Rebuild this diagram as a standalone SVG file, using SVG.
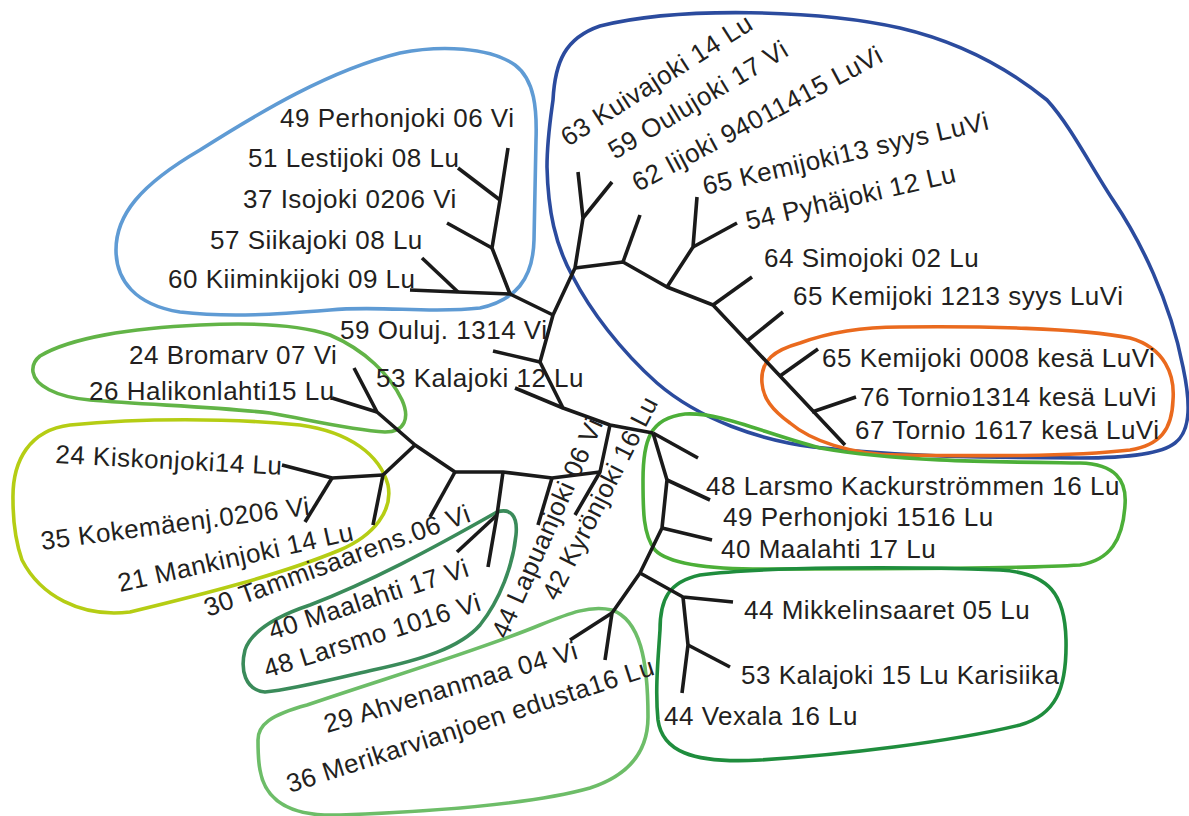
<svg xmlns="http://www.w3.org/2000/svg" width="1189" height="816" viewBox="0 0 1189 816">
  <style>
    .hull { fill: none; stroke-width: 3.6; stroke-linejoin: round; }
    .edge { fill: none; stroke: #1a1a1a; stroke-width: 3.6; stroke-linejoin: round; stroke-linecap: butt; }
    text { font-family: "Liberation Sans", Arial, sans-serif; font-size: 26px; letter-spacing: 0.5px; fill: #231f20; }
  </style>
  <rect width="1189" height="816" fill="#ffffff"/>

  <!-- cluster outlines -->
  <g id="clusters">
    <path class="hull" stroke="#5f9bd4" d="M 116,250 C 116,215 140,185 200,150 C 260,112 330,70 400,53 C 440,45 490,47 515,65 C 535,80 537,110 536,140 L 534,240 C 533,280 515,300 480,308 C 430,314 380,305 330,310 C 280,314 230,318 180,312 C 135,305 116,280 116,250 Z"/>
    <path class="hull" stroke="#2b4b9e" d="M 553,100 C 555,62 565,38 600,26 C 680,6 820,10 900,28 C 960,42 1010,70 1047,100 C 1070,125 1090,165 1113,200 C 1140,240 1170,300 1183,367 C 1190,400 1192,430 1175,443 C 1160,455 1120,458 1080,458 L 980,457 C 920,456 860,452 813,447 C 760,440 700,420 657,383 C 620,350 590,310 573,277 C 555,245 548,210 547,167 C 547,140 551,115 553,100 Z"/>
    <path class="hull" stroke="#ea6a1e" d="M 762,383 C 760,360 775,350 800,343 C 830,332 860,327 900,327 C 980,326 1080,328 1130,338 C 1165,348 1175,375 1173,400 C 1172,430 1160,445 1130,450 C 1070,457 980,456 900,455 C 850,455 810,440 790,423 C 772,410 763,398 762,383 Z"/>
    <path class="hull" stroke="#4caf38" d="M 643,480 C 643,440 650,418 685,414 C 720,412 760,432 820,448 C 900,462 1000,462 1080,463 C 1115,464 1127,480 1125,505 C 1123,540 1110,560 1080,565 C 1000,570 880,568 780,569 C 720,570 670,566 655,550 C 643,535 643,510 643,480 Z"/>
    <path class="hull" stroke="#1f8d3d" d="M 660,630 C 660,600 668,582 700,575 C 760,567 900,566 1000,570 C 1050,573 1065,595 1066,640 C 1067,690 1055,715 1020,725 C 950,742 840,755 760,760 C 690,764 662,750 658,720 C 655,690 658,660 660,630 Z"/>
    <path class="hull" stroke="#6dbd68" d="M 258,740 C 258,725 270,715 307,705 C 380,680 480,650 540,625 C 570,613 590,605 612,610 C 640,620 648,660 648,717 C 648,750 630,775 590,788 C 530,805 420,812 340,815 C 290,817 265,800 260,770 C 258,760 258,750 258,740 Z"/>
    <path class="hull" stroke="#3a8b5a" d="M 497,512 C 510,508 518,515 516,535 C 513,565 500,600 480,625 C 460,648 420,660 373,670 C 330,680 290,690 265,692 C 245,690 240,670 245,650 C 252,630 280,615 310,605 C 370,582 430,550 497,512 Z"/>
    <path class="hull" stroke="#b5cd14" d="M 13,500 C 12,460 30,430 70,425 C 140,418 230,418 300,425 C 350,432 380,455 388,485 C 393,510 375,535 340,550 C 280,575 200,595 130,612 C 80,618 40,595 22,560 C 15,540 13,520 13,500 Z"/>
    <path class="hull" stroke="#62b447" d="M 40,356 C 70,338 130,328 200,325 C 260,322 300,325 330,335 C 365,350 390,375 402,400 C 410,418 405,432 385,432 C 350,430 310,420 270,413 C 220,407 150,405 90,400 C 55,397 35,385 33,372 C 32,365 35,360 40,356 Z"/>
  </g>

  <!-- tree branches -->
  <g id="connectors">
    <polyline class="edge" points="410,290 458,292 510,294 553,315"/>
    <polyline class="edge" points="422,258 458,292"/>
    <polyline class="edge" points="510,294 492,248 500,200 508,148"/>
    <polyline class="edge" points="447,223 492,248"/>
    <polyline class="edge" points="458,168 500,200"/>
    <polyline class="edge" points="578,172 583,218 575,268 553,315 540,362 563,408 610,425 653,433"/>
    <polyline class="edge" points="612,182 583,218"/>
    <polyline class="edge" points="575,268 623,262 667,287 713,305 845,445"/>
    <polyline class="edge" points="640,215 623,262"/>
    <polyline class="edge" points="667,287 693,247 697,197"/>
    <polyline class="edge" points="693,247 737,223"/>
    <polyline class="edge" points="713,305 752,277"/>
    <polyline class="edge" points="747,341 783,312"/>
    <polyline class="edge" points="780,376 818,349"/>
    <polyline class="edge" points="812,412 856,397"/>
    <polyline class="edge" points="540,362 493,351"/>
    <polyline class="edge" points="563,408 515,388"/>
    <polyline class="edge" points="610,425 600,472 575,515"/>
    <polyline class="edge" points="600,472 552,478 503,472 455,472 415,445 377,412 354,368"/>
    <polyline class="edge" points="377,412 332,398"/>
    <polyline class="edge" points="552,478 538,525"/>
    <polyline class="edge" points="503,472 497,515 488,567"/>
    <polyline class="edge" points="497,515 457,552"/>
    <polyline class="edge" points="455,472 430,517"/>
    <polyline class="edge" points="415,445 383,475 373,525"/>
    <polyline class="edge" points="383,475 332,478 282,465"/>
    <polyline class="edge" points="332,478 305,522"/>
    <polyline class="edge" points="653,433 698,458"/>
    <polyline class="edge" points="653,433 667,480 662,528 640,573 612,613 605,660"/>
    <polyline class="edge" points="612,613 570,640"/>
    <polyline class="edge" points="667,480 710,500"/>
    <polyline class="edge" points="662,528 712,540"/>
    <polyline class="edge" points="640,573 683,597 733,602"/>
    <polyline class="edge" points="683,597 688,645 682,693"/>
    <polyline class="edge" points="688,645 730,667"/>
  </g>

  <!-- leaf labels -->
  <g id="n-perhonjoki06"><text x="280" y="127">49 Perhonjoki 06 Vi</text></g>
  <g id="n-lestijoki08"><text x="248" y="167">51 Lestijoki 08 Lu</text></g>
  <g id="n-isojoki0206"><text x="243" y="208">37 Isojoki 0206 Vi</text></g>
  <g id="n-siikajoki08"><text x="210" y="249">57 Siikajoki 08 Lu</text></g>
  <g id="n-kiiminkijoki09"><text x="168" y="288">60 Kiiminkijoki 09 Lu</text></g>
  <g id="n-ouluj1314"><text x="340" y="339">59 Ouluj. 1314 Vi</text></g>
  <g id="n-kalajoki12"><text x="376" y="387">53 Kalajoki 12 Lu</text></g>
  <g id="n-bromarv07"><text x="129" y="364">24 Bromarv 07 Vi</text></g>
  <g id="n-halikonlahti15"><text x="89" y="400">26 Halikonlahti15 Lu</text></g>

  <g id="n-kuivajoki14"><text transform="translate(568,147) rotate(-32.5)">63 Kuivajoki 14 Lu</text></g>
  <g id="n-oulujoki17"><text transform="translate(615,160) rotate(-31)">59 Oulujoki 17 Vi</text></g>
  <g id="n-iijoki"><text transform="translate(638,192) rotate(-28)">62 Iijoki 94011415 LuVi</text></g>
  <g id="n-kemijoki13"><text transform="translate(705,195) rotate(-13)">65 Kemijoki13 syys LuVi</text></g>
  <g id="n-pyhajoki12"><text transform="translate(748,230) rotate(-13)">54 Pyhäjoki 12 Lu</text></g>
  <g id="n-simojoki02"><text x="764" y="267">64 Simojoki 02 Lu</text></g>
  <g id="n-kemijoki1213"><text x="793" y="305">65 Kemijoki 1213 syys LuVi</text></g>
  <g id="n-kemijoki0008"><text x="822" y="367">65 Kemijoki 0008 kesä LuVi</text></g>
  <g id="n-tornio1314"><text x="860" y="406">76 Tornio1314 kesä LuVi</text></g>
  <g id="n-tornio1617"><text x="855" y="439">67 Tornio 1617 kesä LuVi</text></g>

  <g id="n-larsmo-kackur"><text x="706" y="495">48 Larsmo Kackurströmmen 16 Lu</text></g>
  <g id="n-perhonjoki1516"><text x="723" y="526">49 Perhonjoki 1516 Lu</text></g>
  <g id="n-maalahti17lu"><text x="721" y="558">40 Maalahti 17 Lu</text></g>
  <g id="n-mikkelinsaaret"><text x="744" y="619">44 Mikkelinsaaret 05 Lu</text></g>
  <g id="n-kalajoki15"><text x="741" y="684">53 Kalajoki 15 Lu Karisiika</text></g>
  <g id="n-vexala16"><text x="664" y="725">44 Vexala 16 Lu</text></g>

  <g id="n-kiskonjoki14"><text transform="translate(55,463) rotate(3)">24 Kiskonjoki14 Lu</text></g>
  <g id="n-kokemaenj"><text transform="translate(42,550) rotate(-7.5)">35 Kokemäenj.0206 Vi</text></g>
  <g id="n-mankinjoki14"><text transform="translate(120,592) rotate(-12.5)">21 Mankinjoki 14 Lu</text></g>
  <g id="n-tammisaarens"><text transform="translate(208,617) rotate(-20)">30 Tammisaarens.06 Vi</text></g>
  <g id="n-maalahti17vi"><text transform="translate(272,640) rotate(-18)">40 Maalahti 17 Vi</text></g>
  <g id="n-larsmo1016"><text transform="translate(267,678) rotate(-17.5)">48 Larsmo 1016 Vi</text></g>
  <g id="n-lapuanjoki06"><text transform="translate(507,640) rotate(-66)">44 Lapuanjoki 06 Vi</text></g>
  <g id="n-kyronjoki16"><text transform="translate(557,602) rotate(-63)">42 Kyrönjoki 16 Lu</text></g>
  <g id="n-ahvenanmaa04"><text transform="translate(327,733) rotate(-16.5)">29 Ahvenanmaa 04 Vi</text></g>
  <g id="n-merikarvia"><text transform="translate(290,793) rotate(-18)">36 Merikarvianjoen edusta16 Lu</text></g>
</svg>
